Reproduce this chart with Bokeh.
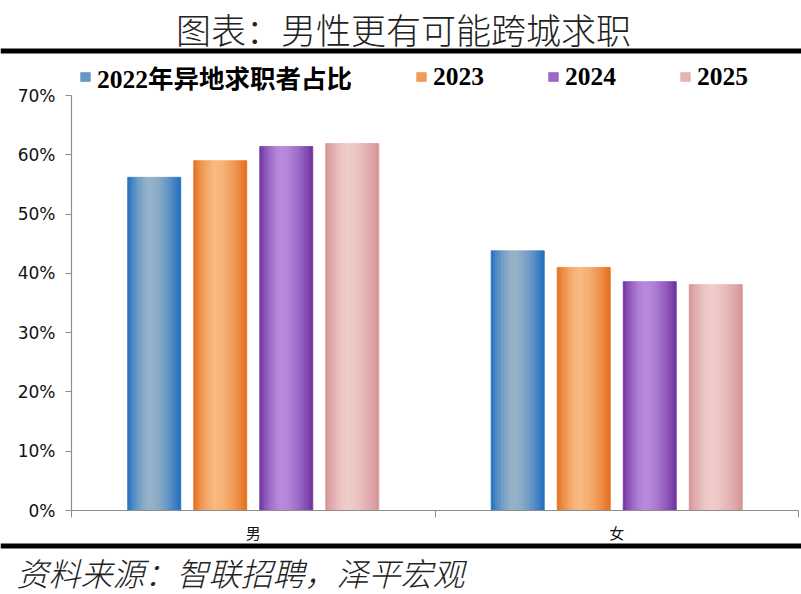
from bokeh.plotting import figure
from bokeh.models import (ColumnDataSource, Label, BoxAnnotation, Legend, LegendItem,
                          FixedTicker, Range1d, NumeralTickFormatter, LinearAxis)
from bokeh.embed import file_html
from bokeh.resources import INLINE

# ---------------- data ----------------
categories = ["男", "女"]
series = ["2022年异地求职者占比", "2023", "2024", "2025"]
v2022 = [0.562, 0.438]
v2023 = [0.590, 0.410]
v2024 = [0.614, 0.386]
v2025 = [0.619, 0.381]
y_ticks = [0.0, 0.1, 0.2, 0.3, 0.4, 0.5, 0.6, 0.7]
title_text = "图表：男性更有可能跨城求职"
source_text = "资料来源：智联招聘，泽平宏观"

values = [v2022, v2023, v2024, v2025]

# ---------------- style / layout ----------------
edge_colors = [(30, 110, 192), (228, 110, 28), (112, 48, 160), (214, 146, 150)]
light_colors = [(150, 178, 200), (249, 184, 126), (183, 138, 221), (238, 204, 201)]
N_STRIPS = 24
GROUP_STEP = 0.1816
BAR_W = 0.146
PEAK = 0.42

W, H = 801, 594
X_LEFT_PX, X_RIGHT_PX = 71, 798      # plot area left / right edge (pixels)
Y_ZERO_PX, Y_TOP_PX = 510, 95        # 0% and 70% (pixels from top)
Y_MAX = 0.70
SX = (X_RIGHT_PX - X_LEFT_PX) / len(categories)
SY = (Y_ZERO_PX - Y_TOP_PX) / Y_MAX

p = figure(width=W, height=H, output_backend="svg", toolbar_location=None,
           x_range=Range1d(-X_LEFT_PX / SX, (W - X_LEFT_PX) / SX),
           y_range=Range1d(-(H - Y_ZERO_PX) / SY, Y_MAX + Y_TOP_PX / SY),
           x_axis_location=None, y_axis_location=None,
           min_border=0, min_border_left=0, min_border_right=0,
           min_border_top=0, min_border_bottom=0)
p.outline_line_color = None
p.xgrid.visible = False
p.ygrid.visible = False
p.background_fill_color = "white"
p.border_fill_color = "white"


def mix(a, b, f):
    return "#%02x%02x%02x" % tuple(int(round(a[i] + (b[i] - a[i]) * f)) for i in range(3))


renderers = []
for j, vals in enumerate(values):
    xs, tops, cols = [], [], []
    for i, v in enumerate(vals):
        center = i + 0.5 + (j - 1.5) * GROUP_STEP
        for k in range(N_STRIPS):
            t = (k + 0.5) / N_STRIPS
            d = (t - PEAK) / PEAK if t < PEAK else (t - PEAK) / (1 - PEAK)
            f = max(0.0, 1 - abs(d) ** 1.6)
            xs.append(center - BAR_W / 2 + t * BAR_W)
            tops.append(v)
            cols.append(mix(edge_colors[j], light_colors[j], f))
    src = ColumnDataSource(dict(x=xs, top=tops, color=cols))
    r = p.vbar(x="x", top="top", bottom=0, width=BAR_W / N_STRIPS, source=src,
               fill_color="color", line_color="color", line_width=0.8)
    renderers.append(r)

# ---------------- axes (fixed inside the frame) ----------------
xa = LinearAxis(fixed_location=0, bounds=(0, len(categories)))
xa.ticker = FixedTicker(ticks=[i + 0.5 for i in range(len(categories))],
                        minor_ticks=list(range(len(categories) + 1)))
xa.major_label_overrides = {i + 0.5: c for i, c in enumerate(categories)}
xa.major_tick_line_color = None
xa.major_tick_out = 0
xa.major_tick_in = 0
xa.minor_tick_line_color = "#8c8c8c"
xa.minor_tick_out = 7
xa.minor_tick_in = 0
xa.axis_line_color = "#8c8c8c"
xa.axis_line_width = 1.2
xa.major_label_text_font = "Noto Sans CJK SC"
xa.major_label_text_font_size = "15px"
xa.major_label_text_color = "#111111"
xa.major_label_standoff = 4
p.add_layout(xa, "below")

ya = LinearAxis(fixed_location=0, bounds=(0, Y_MAX))
ya.ticker = FixedTicker(ticks=y_ticks)
ya.formatter = NumeralTickFormatter(format="0%")
ya.minor_tick_line_color = None
ya.major_tick_out = 6
ya.major_tick_in = 0
ya.major_tick_line_color = "#8c8c8c"
ya.axis_line_color = "#8c8c8c"
ya.axis_line_width = 1.2
ya.major_label_text_font = "DejaVu Sans"
ya.major_label_text_font_size = "17px"
ya.major_label_text_color = "#111111"
ya.major_label_standoff = 10
p.add_layout(ya, "left")

# ---------------- legend ----------------
items = [LegendItem(label=s, renderers=[r], index=4) for s, r in zip(series, renderers)]
legend = Legend(items=items, orientation="horizontal", location=(79, 499),
                glyph_width=12, glyph_height=11, label_standoff=6, spacing=63,
                padding=0, margin=0, border_line_color=None,
                background_fill_alpha=0,
                label_text_font="Liberation Serif, Noto Sans CJK SC",
                label_text_font_style="bold", label_text_font_size="25.5px",
                label_text_color="#000000", label_height=24, label_width=10)
p.add_layout(legend, "center")

# ---------------- title, rules, source ----------------
p.add_layout(Label(x=403, y=H - 28, x_units="screen", y_units="screen",
                   text=title_text, text_align="center", text_baseline="middle",
                   text_font="Noto Sans CJK SC Light, Noto Sans CJK SC",
                   text_font_size="35px", text_color="#222222"))
p.add_layout(BoxAnnotation(left=0, right=W, bottom=H - 53, top=H - 48,
                           left_units="screen", right_units="screen",
                           bottom_units="screen", top_units="screen",
                           fill_color="black", fill_alpha=1, line_color=None))
p.add_layout(BoxAnnotation(left=0, right=W, bottom=H - 548, top=H - 543,
                           left_units="screen", right_units="screen",
                           bottom_units="screen", top_units="screen",
                           fill_color="black", fill_alpha=1, line_color=None))
p.add_layout(Label(x=16, y=H - 571, x_units="screen", y_units="screen",
                   text=source_text, text_align="left", text_baseline="middle",
                   text_font="Noto Sans CJK SC Light, Noto Sans CJK SC",
                   text_font_style="italic", text_font_size="32px",
                   text_color="#222222"))

open("out.html", "w").write(file_html(p, INLINE))
